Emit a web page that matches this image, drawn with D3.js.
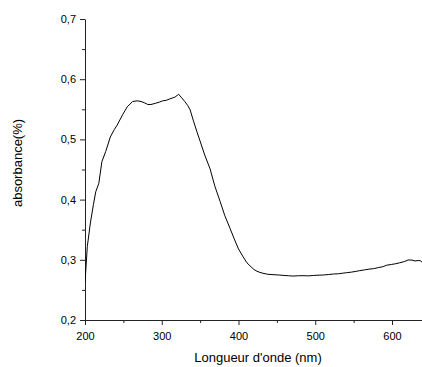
<!DOCTYPE html>
<html>
<head>
<meta charset="utf-8">
<script src="https://cdn.jsdelivr.net/npm/d3@7"></script>
<style>
  body { margin: 0; background: #fff; }
  svg { display: block; font-family: "Liberation Sans", Arial, sans-serif; }
</style>
</head>
<body>
<div id="chart"></div>
<script>
// spectrum
const wavelength = [200, 203, 207, 211, 214, 218, 222, 227, 233, 238, 242, 249, 255, 262, 268, 273, 277, 282, 286, 292, 297, 301, 306, 312, 317, 322, 326, 330, 334, 337, 341, 346, 350, 356, 363, 369, 376, 382, 389, 395, 400, 406, 411, 415, 420, 424, 428, 432, 438, 445, 452, 458, 465, 471, 478, 484, 491, 498, 505, 511, 517, 524, 530, 536, 541, 547, 553, 558, 564, 570, 576, 582, 588, 593, 599, 605, 610, 616, 621, 626, 630, 634, 637, 640];
const absorbance = [0.262, 0.322, 0.361, 0.392, 0.413, 0.427, 0.463, 0.480, 0.504, 0.516, 0.524, 0.541, 0.554, 0.563, 0.564, 0.563, 0.561, 0.558, 0.558, 0.560, 0.562, 0.564, 0.565, 0.568, 0.570, 0.575, 0.569, 0.563, 0.556, 0.549, 0.532, 0.512, 0.497, 0.474, 0.451, 0.423, 0.397, 0.374, 0.352, 0.333, 0.318, 0.305, 0.295, 0.290, 0.284, 0.281, 0.279, 0.2776, 0.276, 0.2753, 0.2748, 0.2742, 0.2735, 0.273, 0.2735, 0.2736, 0.2733, 0.274, 0.2745, 0.2748, 0.2755, 0.2764, 0.2768, 0.2778, 0.2786, 0.2795, 0.2808, 0.282, 0.2832, 0.2845, 0.2853, 0.287, 0.2885, 0.291, 0.2922, 0.2935, 0.295, 0.297, 0.2997, 0.2995, 0.298, 0.2988, 0.2985, 0.295];

const xTicks = [200, 300, 400, 500, 600];
const xMinor = [250, 350, 450, 550];
const yTicks = [0.2, 0.3, 0.4, 0.5, 0.6, 0.7];
const yTickLabels = ['0,2', '0,3', '0,4', '0,5', '0,6', '0,7'];
const yMinor = [0.25, 0.35, 0.45, 0.55, 0.65];

const width = 422, height = 367;
const margin = { top: 19, left: 85, bottom: 47 };

const svg = d3.select('#chart')
  .append('svg')
  .attr('width', width)
  .attr('height', height);

const x = d3.scaleLinear().domain([200, 640]).range([margin.left, 422.7]);
const y = d3.scaleLinear().domain([0.2, 0.7]).range([height - margin.bottom, margin.top]);

// minor ticks first, so the major axis sits over them
svg.append('g')
  .attr('transform', `translate(0,${y(0.2)})`)
  .call(d3.axisBottom(x).tickValues(xMinor).tickSize(3).tickFormat(''))
  .call(g => g.select('.domain').remove());

svg.append('g')
  .attr('transform', `translate(${x(200)},0)`)
  .call(d3.axisLeft(y).tickValues(yMinor).tickSize(3).tickFormat(''))
  .call(g => g.select('.domain').remove());

// x axis
const xAxis = svg.append('g')
  .attr('transform', `translate(0,${y(0.2)})`)
  .call(d3.axisBottom(x).tickValues(xTicks).tickSize(5).tickSizeOuter(0).tickPadding(7));
xAxis.selectAll('text').style('font-size', '11px').attr('fill', '#000');

// y axis
const yAxis = svg.append('g')
  .attr('transform', `translate(${x(200)},0)`)
  .call(d3.axisLeft(y).tickValues(yTicks).tickSize(5).tickSizeOuter(0).tickPadding(4)
    .tickFormat((d, i) => yTickLabels[i]));
yAxis.selectAll('text').style('font-size', '11px').attr('fill', '#000');

svg.selectAll('.domain, .tick line').attr('stroke', '#222');

// clip so the curve stops at the frame edge
svg.append('clipPath').attr('id', 'plot')
  .append('rect')
  .attr('x', margin.left).attr('y', margin.top)
  .attr('width', width - margin.left).attr('height', y(0.2) - margin.top);

const line = d3.line()
  .x((d, i) => x(wavelength[i]))
  .y(d => y(d));

svg.append('path')
  .datum(absorbance)
  .attr('clip-path', 'url(#plot)')
  .attr('fill', 'none')
  .attr('stroke', '#000')
  .attr('stroke-width', 1)
  .attr('stroke-linejoin', 'round')
  .attr('d', line);

// axis titles
svg.append('text')
  .attr('x', 258)
  .attr('y', 362)
  .attr('text-anchor', 'middle')
  .style('font-size', '13px')
  .text("Longueur d'onde (nm)");

svg.append('text')
  .attr('transform', 'translate(22,163) rotate(-90)')
  .attr('text-anchor', 'middle')
  .style('font-size', '13px')
  .text('absorbance(%)');
</script>
</body>
</html>
